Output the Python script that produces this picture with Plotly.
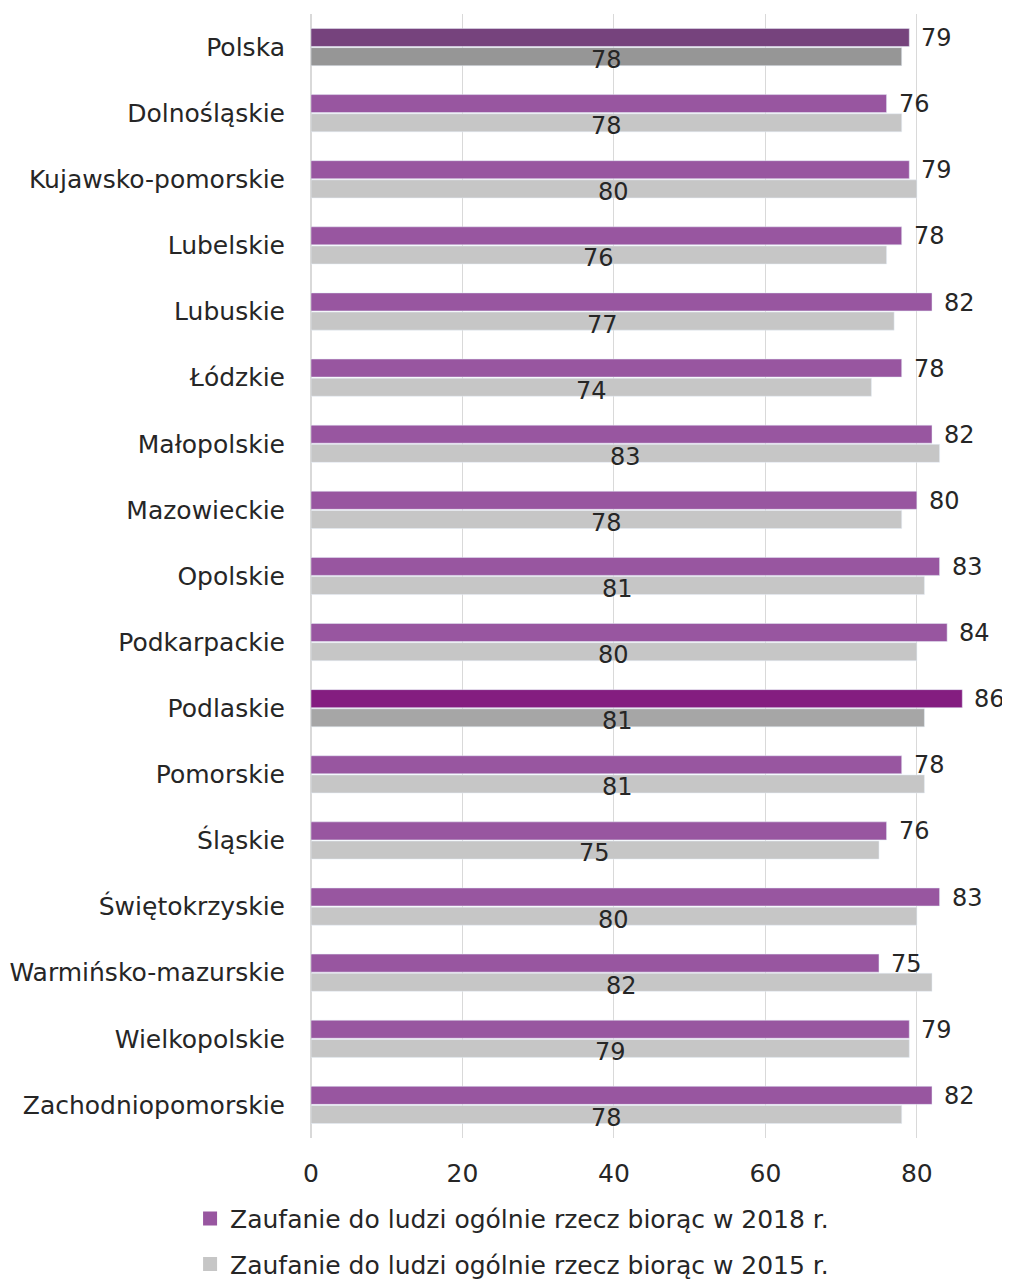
"""Zaufanie do ludzi ogólnie rzecz biorąc: 2018 vs 2015 by voivodeship."""

import plotly.graph_objects as go

# Data
regions = [
    "Polska", "Dolnośląskie", "Kujawsko-pomorskie", "Lubelskie", "Lubuskie",
    "Łódzkie", "Małopolskie", "Mazowieckie", "Opolskie", "Podkarpackie",
    "Podlaskie", "Pomorskie", "Śląskie", "Świętokrzyskie",
    "Warmińsko-mazurskie", "Wielkopolskie", "Zachodniopomorskie",
]
trust_2018 = [79, 76, 79, 78, 82, 78, 82, 80, 83, 84, 86, 78, 76, 83, 75, 79, 82]
trust_2015 = [78, 78, 80, 76, 77, 74, 83, 78, 81, 80, 81, 81, 75, 80, 82, 79, 78]
series_names = [
    "Zaufanie do ludzi ogólnie rzecz biorąc w 2018 r.",
    "Zaufanie do ludzi ogólnie rzecz biorąc w 2015 r.",
]
x_ticks = [0, 20, 40, 60, 80]

# Colors
_PURPLE = "#9856A0"
_PURPLE_POLSKA = "#76437D"
_PURPLE_HIGHLIGHT = "#841D80"
_GREY = "#C6C6C6"
_GREY_POLSKA = "#969696"
_GREY_HIGHLIGHT = "#A6A6A6"
_TEXT = "#262626"
_FONT = "DejaVu Sans"
_SIZE = 25


def _colors(base, polska, highlight):
    out = []
    for r in regions:
        if r == "Polska":
            out.append(polska)
        elif r == "Podlaskie":
            out.append(highlight)
        else:
            out.append(base)
    return out


fig = go.Figure()

fig.add_trace(
    go.Bar(
        y=regions,
        x=trust_2018,
        orientation="h",
        name=series_names[0],
        marker=dict(color=_colors(_PURPLE, _PURPLE_POLSKA, _PURPLE_HIGHLIGHT)),
        showlegend=False,
    )
)
fig.add_trace(
    go.Bar(
        y=regions,
        x=trust_2015,
        orientation="h",
        name=series_names[1],
        marker=dict(color=_colors(_GREY, _GREY_POLSKA, _GREY_HIGHLIGHT)),
        showlegend=False,
    )
)

# Legend entries in the plain series colours (bars use per-point colours)
for name, color, group in zip(series_names, [_PURPLE, _GREY], ["a", "b"]):
    fig.add_trace(
        go.Scatter(
            x=[None],
            y=[None],
            mode="markers",
            name=name,
            marker=dict(symbol="square", size=14, color=color),
            legendgroup=group,
        )
    )

# Value labels
for r, v18, v15 in zip(regions, trust_2018, trust_2015):
    fig.add_annotation(
        x=v18, y=r, text=str(v18), showarrow=False,
        xanchor="left", xshift=10, yshift=9,
        font=dict(size=_SIZE - 1, color=_TEXT, family=_FONT),
    )
    fig.add_annotation(
        x=v15 / 2, y=r, text=str(v15), showarrow=False,
        xanchor="center", yshift=-13,
        font=dict(size=_SIZE - 1, color=_TEXT, family=_FONT),
    )

# The page body adds an 8px margin, so the figure is 8px smaller than the window
fig.update_layout(
    width=1002,
    height=1280,
    barmode="group",
    bargap=0.42,
    bargroupgap=0.06,
    plot_bgcolor="white",
    paper_bgcolor="white",
    font=dict(family=_FONT, size=_SIZE, color=_TEXT),
    margin=dict(l=303, r=0, t=6, b=150),
    xaxis=dict(
        range=[0, 92.3],
        tickvals=x_ticks,
        showgrid=True,
        gridcolor="#D9D9D9",
        gridwidth=1,
        zeroline=True,
        zerolinecolor="#D9D9D9",
        showline=False,
        ticks="",
        ticklabelstandoff=18,
        automargin=False,
    ),
    yaxis=dict(
        type="category",
        categoryorder="array",
        categoryarray=regions,
        autorange="reversed",
        showgrid=False,
        ticks="",
        ticklabelstandoff=25,
        automargin=False,
    ),
    legend=dict(
        orientation="v",
        x=-0.173,
        xanchor="left",
        yref="container",
        y=0.072,
        yanchor="top",
        tracegroupgap=10,
        itemwidth=30,
    ),
)

fig.write_html("out.html")
